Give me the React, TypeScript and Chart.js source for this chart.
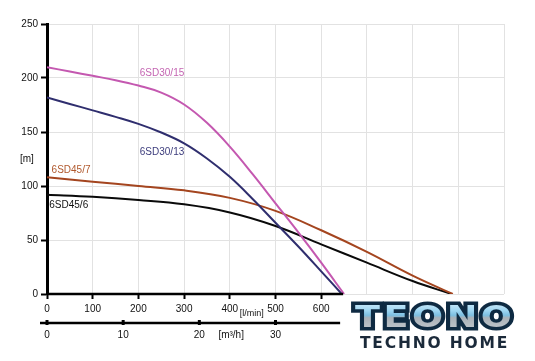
import React, { useEffect, useRef } from "react";
import { Chart, registerables } from "chart.js";

Chart.register(...registerables);

// Flow (l/min) and head (m)
const flow_30_15 = [0, 50, 100, 150, 200, 250, 300, 350, 400, 450, 500, 550, 600, 650];
const head_30_15 = [210, 206, 202, 198, 193, 186.5, 175.5, 158.5, 136.5, 111, 84, 57, 29, 0];

const flow_30_13 = [0, 50, 100, 150, 200, 250, 300, 350, 400, 450, 500, 550, 600, 645];
const head_30_13 = [182, 176, 170, 164, 157.5, 149.5, 139.5, 125.5, 108.5, 88, 66, 44, 21, 0];

const flow_45_7 = [0, 100, 200, 300, 400, 500, 600, 700, 800, 888];
const head_45_7 = [108, 104, 100, 96, 89, 77, 59, 39, 17, 0];

const flow_45_6 = [0, 100, 200, 300, 400, 500, 600, 700, 800, 885];
const head_45_6 = [92, 90, 87, 83, 75.5, 63, 46, 29, 12, 0];

const seriesNames = ["6SD30/15", "6SD30/13", "6SD45/7", "6SD45/6"];
const seriesColors = ["#c458b0", "#2f2e6e", "#a4451f", "#0a0a0a"];
const labelColors = ["#c465b2", "#3c3c7c", "#b0582c", "#111111"];
// label anchor (flow l/min, head m)
const labelFlow = [203, 203, 10, 5];
const labelHead = [204, 131, 115, 82];

const yTicks = [0, 50, 100, 150, 200, 250];
const xLabelMax = 600;
const xAxisEnd = 648;
const m3hTicks = [0, 10, 20, 30];

const FONT = "'Liberation Sans', Arial, sans-serif";

function pts(xs: number[], ys: number[]) {
  return xs.map((x, i) => ({ x, y: ys[i] }));
}

const annotations = {
  id: "annotations",
  afterDraw(chart: any) {
    const ctx = chart.ctx as CanvasRenderingContext2D;
    const xs = chart.scales.x;
    const ys = chart.scales.y;
    const y0 = ys.getPixelForValue(0);
    ctx.save();
    // main x axis line
    ctx.strokeStyle = "#000";
    ctx.lineWidth = 2.5;
    ctx.beginPath();
    ctx.moveTo(xs.getPixelForValue(0) - 1, y0);
    ctx.lineTo(xs.getPixelForValue(xAxisEnd), y0);
    ctx.stroke();

    // series labels
    ctx.font = `10px ${FONT}`;
    ctx.textBaseline = "middle";
    ctx.textAlign = "left";
    seriesNames.forEach((n, i) => {
      ctx.fillStyle = labelColors[i];
      ctx.fillText(n, xs.getPixelForValue(labelFlow[i]), ys.getPixelForValue(labelHead[i]));
    });

    // axis unit labels
    ctx.fillStyle = "#111";
    ctx.fillText("[m]", 20, ys.getPixelForValue(125));
    ctx.font = `9px ${FONT}`;
    ctx.fillText("[l/min]", xs.getPixelForValue(422), y0 + 20);

    // secondary m3/h axis
    const ya = y0 + 29;
    ctx.lineWidth = 2.5;
    ctx.beginPath();
    ctx.moveTo(xs.getPixelForValue(0) - 7, ya);
    ctx.lineTo(xs.getPixelForValue(xAxisEnd) - 3, ya);
    ctx.stroke();
    ctx.font = `10px ${FONT}`;
    ctx.textAlign = "center";
    m3hTicks.forEach((v) => {
      const px = xs.getPixelForValue((v * 1000) / 60);
      ctx.fillStyle = "#000";
      ctx.fillRect(px - 1.5, ya - 3, 3, 5);
      ctx.fillStyle = "#111";
      ctx.fillText(String(v), px, ya + 12);
    });
    ctx.textAlign = "left";
    ctx.fillText("[m\u00B3/h]", xs.getPixelForValue(375), ya + 12);
    ctx.restore();
  },
};

export default function App() {
  const ref = useRef<HTMLCanvasElement>(null);
  useEffect(() => {
    const datasets = [
      pts(flow_30_15, head_30_15),
      pts(flow_30_13, head_30_13),
      pts(flow_45_7, head_45_7),
      pts(flow_45_6, head_45_6),
    ].map((d, i) => ({
      label: seriesNames[i],
      data: d,
      borderColor: seriesColors[i],
      borderWidth: 2,
      pointRadius: 0,
      fill: false,
      tension: 0.4,
    }));
    const chart = new Chart(ref.current!, {
      type: "line",
      data: { datasets },
      options: {
        animation: false,
        responsive: false,
        layout: { padding: { top: 24, right: 31, left: 0, bottom: 0 } },
        plugins: { legend: { display: false }, tooltip: { enabled: false } },
        scales: {
          x: {
            type: "linear",
            min: 0,
            max: 1000,
            afterFit: (s: any) => {
              s.height = 67;
            },
            ticks: {
              stepSize: 100,
              maxRotation: 0,
              autoSkip: false,
              padding: 4,
              color: "#111",
              font: { family: FONT, size: 10 },
              callback: (v: any) => (Number(v) <= xLabelMax ? String(v) : ""),
            },
            grid: {
              color: "#e2e2e2",
              lineWidth: 1,
              tickLength: 5,
              tickWidth: 2,
              tickColor: (c: any) =>
                c.tick && c.tick.value <= xLabelMax ? "#000" : "rgba(0,0,0,0)",
            },
            border: { display: false },
          },
          y: {
            min: 0,
            max: 250,
            afterFit: (s: any) => {
              s.width = 47;
            },
            afterBuildTicks: (s: any) => {
              s.ticks = yTicks.map((v) => ({ value: v }));
            },
            ticks: {
              padding: 3,
              color: "#111",
              font: { family: FONT, size: 10 },
            },
            grid: {
              color: "#e2e2e2",
              lineWidth: 1,
              tickLength: 6,
              tickWidth: 2,
              tickColor: "#000",
            },
            border: { color: "#000", width: 3 },
          },
        },
      },
      plugins: [annotations],
    });
    return () => chart.destroy();
  }, []);

  const logoText: React.CSSProperties = {
    position: "absolute",
    left: 0,
    top: 0,
    fontFamily: "'DejaVu Sans', sans-serif",
    fontWeight: 700,
    fontSize: 31,
    lineHeight: "36px",
    letterSpacing: 3,
    whiteSpace: "nowrap",
    transform: "scaleX(1.18)",
    transformOrigin: "left top",
  };

  return (
    <div
      style={{
        position: "fixed",
        left: 0,
        top: 0,
        width: 535,
        height: 361,
        background: "#fff",
        overflow: "hidden",
      }}
    >
      <canvas ref={ref} width={535} height={361} style={{ display: "block" }} />
      <div style={{ position: "absolute", left: 355, top: 298, width: 160, height: 36 }}>
        <span
          style={{
            ...logoText,
            color: "#0e2a42",
            WebkitTextStroke: "7px #0e2a42",
          }}
        >
          TEONO
        </span>
        <span
          style={{
            ...logoText,
            color: "transparent",
            backgroundImage:
              "linear-gradient(180deg, #e6f4fc 0%, #9ed6f2 35%, #7cbfe2 48%, #a9b1b8 55%, #c9ced3 100%)",
            WebkitBackgroundClip: "text",
            backgroundClip: "text",
          }}
        >
          TEONO
        </span>
      </div>
      <div
        style={{
          position: "absolute",
          left: 360,
          top: 334,
          fontFamily: "'DejaVu Sans', sans-serif",
          fontWeight: 700,
          fontSize: 15.5,
          lineHeight: "18px",
          letterSpacing: 1.8,
          color: "#1b2a3a",
          whiteSpace: "nowrap",
        }}
      >
        TECHNO HOME
      </div>
    </div>
  );
}
